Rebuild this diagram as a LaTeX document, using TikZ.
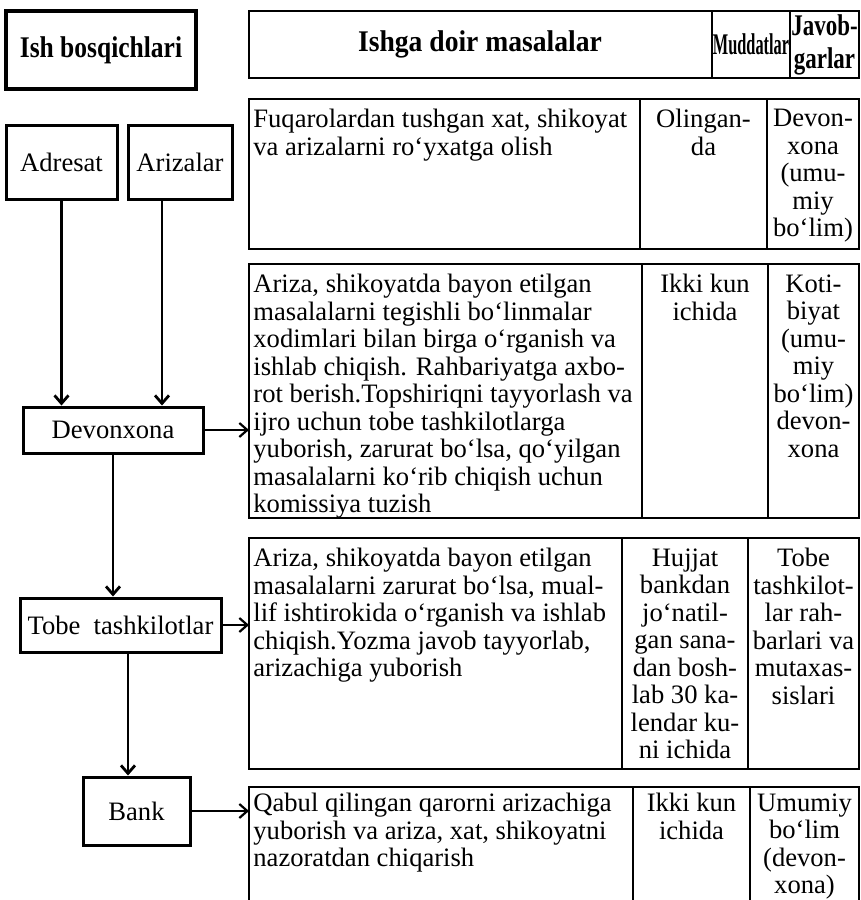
\documentclass[tikz,border=0pt]{standalone}
\usepackage{fontspec}
\usepackage{graphicx}
\setmainfont{Liberation Serif}
\newfontfamily\headfont[FakeStretch=0.85]{Liberation Serif}
\newfontfamily\wideheadfont[FakeStretch=0.92]{Liberation Serif}
\usetikzlibrary{arrows.meta,calc}

\newcommand{\txt}{\fontsize{13.3}{13.75}\selectfont}
\newcommand{\hdr}{\headfont\bfseries\fontsize{15}{16.5}\selectfont}

\begin{document}
\begin{tikzpicture}[x=0.5pt, y=-0.5pt,
  stage/.style={draw, line width=1.5pt, inner sep=0pt, font=\txt},
  rowbox/.style={draw, line width=0.8pt, inner sep=0pt, outer sep=0pt, anchor=north west},
  cellL/.style={inner sep=0pt, anchor=north west, align=left, font=\txt},
  cellC/.style={inner sep=0pt, anchor=north, align=center, font=\txt},
  link/.style={line width=1.4pt, -{Straight Barb[length=4pt, width=7pt]}},
  feed/.style={line width=1.1pt, -{Straight Barb[length=4pt, width=7pt]}}]
\useasboundingbox (0,0) rectangle (861,900);

% Stages on the left
\node[stage, line width=1.8pt, minimum width=95pt, minimum height=39pt, font=\hdr] (stages) at (101,50) {Ish bosqichlari};
\node[stage, minimum width=55.5pt, minimum height=37pt] (adresat) at (61.5,162) {Adresat};
\node[stage, minimum width=52pt, minimum height=37pt] (arizalar) at (180,162) {Arizalar};
\node[stage, minimum width=90pt, minimum height=23pt] (devon) at (113,430) {Devonxona};
\node[stage, minimum width=100.5pt, minimum height=27pt] (tobe) at (120.5,625) {Tobe\ \ tashkilotlar};
\node[stage, minimum width=53.5pt, minimum height=34pt] (bank) at (136.5,811) {Bank};

% Table rows
\node[rowbox, minimum width=305pt, minimum height=33.5pt] (head) at (249,11) {};
\node[rowbox, minimum width=305pt, minimum height=75pt] (rowone) at (249,99) {};
\node[rowbox, minimum width=305pt, minimum height=127pt] (rowtwo) at (249,264) {};
\node[rowbox, minimum width=305pt, minimum height=115.5pt] (rowthree) at (249,538) {};
\node[rowbox, minimum width=305pt, minimum height=59pt] (rowfour) at (249,787) {};

% Column rules
\draw[line width=0.8pt] (712,11) -- (712,78) (790,11) -- (790,78);
\draw[line width=0.8pt] (640,99) -- (640,249) (767,99) -- (767,249);
\draw[line width=0.8pt] (642,264) -- (642,518) (768,264) -- (768,518);
\draw[line width=0.8pt] (622,538) -- (622,769) (748,538) -- (748,769);
\draw[line width=0.8pt] (633,787) -- (633,905) (750,787) -- (750,905);

% Header
\node[font=\wideheadfont\bfseries\fontsize{15}{16.5}\selectfont, inner sep=0pt] (hwork) at (480,44.5) {Ishga doir masalalar};
\node[font=\hdr, inner sep=0pt] (hterm) at (751,44.5) {\scalebox{0.64}[1]{Muddatlar}};
\node[font=\hdr, inner sep=0pt, align=center] (hresp) at (824.5,44.5) {\scalebox{0.9}[1]{Javob-}\\\scalebox{0.9}[1]{garlar}};

% Row 1
\node[cellL] (oneA) at (253,109) {Fuqarolardan tushgan xat, shikoyat\\va arizalarni ro‘yxatga olish};
\node[cellC] (oneB) at (703.5,109) {Olingan-\\da};
\node[cellC] (oneC) at (813,109) {Devon-\\xona\\(umu-\\miy\\bo‘lim)};

% Row 2
\node[cellL] (twoA) at (253,274) {Ariza, shikoyatda bayon etilgan\\masalalarni tegishli bo‘linmalar\\xodimlari bilan birga o‘rganish va\\ishlab chiqish. Rahbariyatga axbo-\\rot berish.Topshiriqni tayyorlash va\\ijro uchun tobe tashkilotlarga\\yuborish, zarurat bo‘lsa, qo‘yilgan\\masalalarni ko‘rib chiqish uchun\\komissiya tuzish};
\node[cellC] (twoB) at (705,274) {Ikki kun\\ichida};
\node[cellC] (twoC) at (813.5,274) {Koti-\\biyat\\(umu-\\miy\\bo‘lim)\\devon-\\xona};

% Row 3
\node[cellL] (threeA) at (253,548) {Ariza, shikoyatda bayon etilgan\\masalalarni zarurat bo‘lsa, mual-\\lif ishtirokida o‘rganish va ishlab\\chiqish.Yozma javob tayyorlab,\\arizachiga yuborish};
\node[cellC] (threeB) at (685,548) {Hujjat\\bankdan\\jo‘natil-\\gan sana-\\dan bosh-\\lab 30 ka-\\lendar ku-\\ni ichida};
\node[cellC] (threeC) at (803.5,548) {Tobe\\tashkilot-\\lar rah-\\barlari va\\mutaxas-\\sislari};

% Row 4
\node[cellL] (fourA) at (253,793) {Qabul qilingan qarorni arizachiga\\yuborish va ariza, xat, shikoyatni\\nazoratdan chiqarish};
\node[cellC] (fourB) at (691.5,793) {Ikki kun\\ichida};
\node[cellC] (fourC) at (804.5,793) {Umumiy\\bo‘lim\\(devon-\\xona)};

% Flow between stages
\coordinate (arzfoot) at ($(arizalar.south)+(-18,0)$);
\coordinate (tobefoot) at ($(tobe.south)+(7.5,0)$);
\draw[link] (adresat.south) -- (adresat.south |- devon.north);
\draw[link] (arzfoot) -- (arzfoot |- devon.north);
\draw[link] (devon.south) -- (devon.south |- tobe.north);
\draw[link] (tobefoot) -- (tobefoot |- bank.north);

% Stages to table rows
\draw[feed] (devon.east) -- (devon.east -| rowtwo.west);
\draw[feed] (tobe.east) -- (tobe.east -| rowthree.west);
\draw[feed] (bank.east) -- (bank.east -| rowfour.west);
\end{tikzpicture}
\end{document}
